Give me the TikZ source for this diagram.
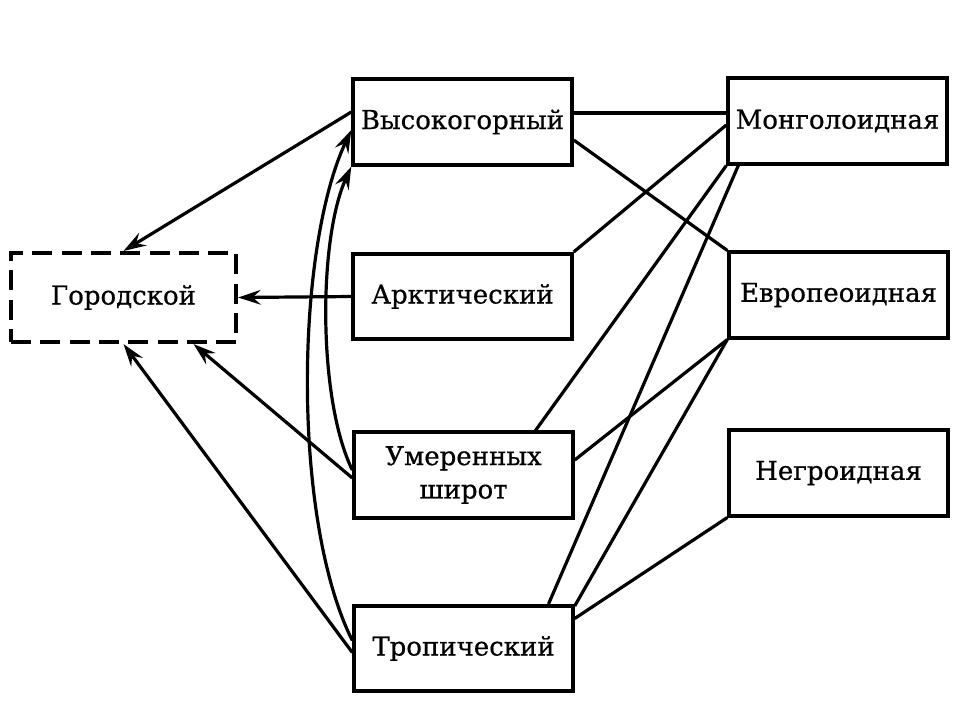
\documentclass[tikz,border=0pt]{standalone}
\usepackage{fontspec}
\setmainfont{DejaVu Serif}
\newfontfamily\diagfont[FakeBold=0.6]{DejaVu Serif}
\usetikzlibrary{arrows.meta,calc}
\begin{document}
\begin{tikzpicture}[x=0.75pt,y=-0.75pt,
  box/.style={draw=black,line width=2.8pt,rectangle,minimum width=164pt,minimum height=64pt,
    inner sep=2pt,align=center,font=\diagfont\fontsize{19.5}{25}\selectfont},
  dbox/.style={box,dash pattern=on 15pt off 7pt},
  link/.style={line width=2.4pt},
  arr/.style={line width=2.4pt,-{Stealth[length=17pt,width=11pt,inset=6pt]}}
]
\useasboundingbox (0,0) rectangle (962,701);
\fill[white] (0,0) rectangle (962,701);

\node[box] (vys) at (462.5,122) {Высокогорный};
\node[box] (ark) at (462.5,296.5) {Арктический};
\node[box] (umer) at (463.5,475) {Умеренных\\широт};
\node[box] (trop) at (463.5,648.5) {Тропический};
\node[box] (mong) at (837.5,121) {Монголоидная};
\node[box] (evr) at (838.5,295) {Европеоидная};
\node[box] (negr) at (838.5,473) {Негроидная};
\node[dbox,minimum width=169pt,minimum height=67pt] (gor) at (123.5,297.5) {Городской};

% arrows to Городской
\draw[arr] ($(vys.west)+(0,-10)$) -- (gor.north);
\draw[arr] (ark.west) -- (gor.east);
\draw[arr] ($(umer.west)+(0,3)$) -- ($(gor.south)+(70,0)$);
\draw[arr] ($(trop.west)+(0,4)$) -- (gor.south);

% curved arrows to Высокогорный
\draw[arr] ($(trop.west)+(0,-8)$) .. controls (292,520) and (295,250) .. ($(vys.west)+(0,8)$);
\draw[arr] ($(umer.west)+(0,-5)$) .. controls (318,400) and (318,240) .. (vys.south west);

% links to races
\draw[link] ($(vys.east)+(0,-9)$) -- ($(mong.west)+(0,-8)$);
\draw[link] ($(vys.east)+(0,18)$) -- (evr.north west);
\draw[link] (ark.north east) -- ($(mong.west)+(0,4)$);
\draw[link] ($(umer.north)+(72,0)$) -- (mong.south west);
\draw[link] ($(trop.north)+(85,0)$) -- ($(mong.south west)+(12,0)$);
\draw[link] ($(umer.east)+(0,-15)$) -- (evr.south west);
\draw[link] ($(trop.north east)+(0,2)$) -- (evr.south west);
\draw[link] ($(trop.east)+(0,-30)$) -- (negr.south west);
\end{tikzpicture}
\end{document}
